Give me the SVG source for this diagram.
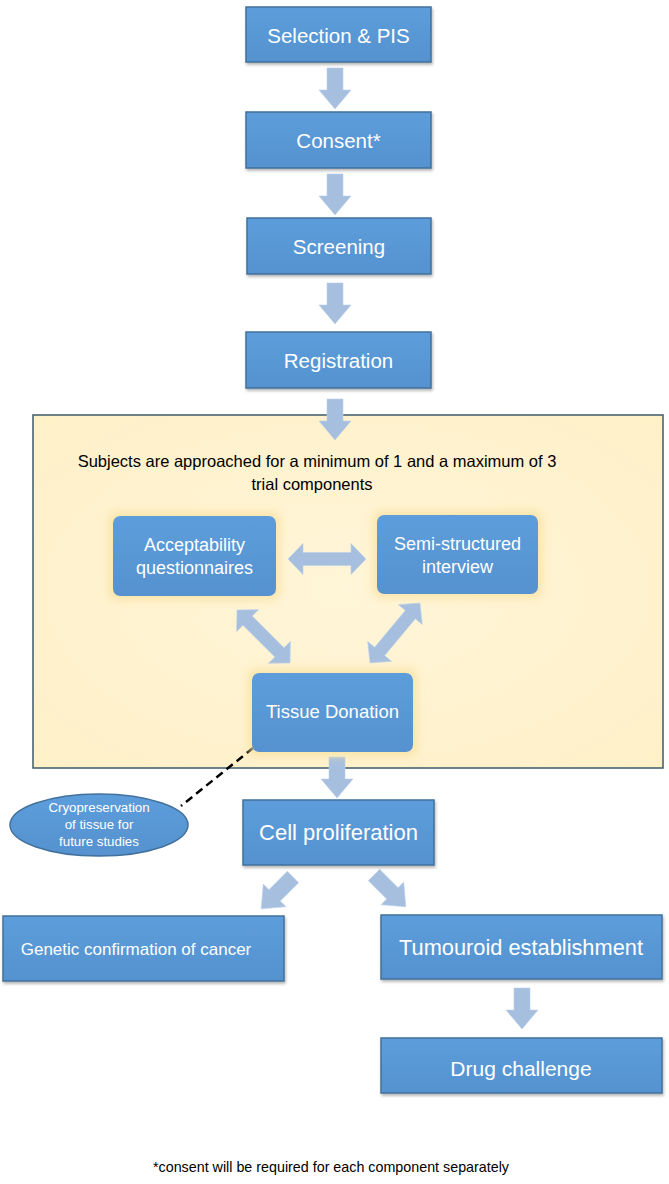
<svg xmlns="http://www.w3.org/2000/svg" xmlns:xlink="http://www.w3.org/1999/xlink" width="669" height="1184" viewBox="0 0 669 1184">
  <defs>
    <style>
      .box { fill: url(#boxGrad); stroke: #41719c; stroke-width: 1.5; filter: url(#shadow); }
      .rbox { fill: url(#boxGrad); stroke: none; filter: url(#glow); }
      .lbl { font-family: "Liberation Sans", Arial, sans-serif; fill: #ffffff; text-anchor: middle; }
      .dark { font-family: "Liberation Sans", Arial, sans-serif; fill: #000000; text-anchor: middle; }
      .arrow { fill: #a6bfdf; stroke: #bcd0ea; stroke-width: 0.6; }
    </style>
    <linearGradient id="boxGrad" x1="0" y1="0" x2="0" y2="1">
      <stop offset="0" stop-color="#5d9ddb"/>
      <stop offset="1" stop-color="#5592cf"/>
    </linearGradient>
    <radialGradient id="panelGrad" cx="0.5" cy="0.5" r="0.7">
      <stop offset="0" stop-color="#fff5d8"/>
      <stop offset="1" stop-color="#fff0c8"/>
    </radialGradient>
    <filter id="shadow" x="-10%" y="-10%" width="125%" height="135%">
      <feDropShadow dx="1" dy="2" stdDeviation="1.5" flood-color="#000" flood-opacity="0.3"/>
    </filter>
    <filter id="glow" x="-20%" y="-30%" width="140%" height="160%">
      <feMorphology in="SourceAlpha" operator="dilate" radius="4" result="d"/>
      <feGaussianBlur in="d" stdDeviation="5" result="b"/>
      <feFlood flood-color="#f7e2a0" flood-opacity="0.8"/>
      <feComposite in2="b" operator="in" result="g"/>
      <feMerge><feMergeNode in="g"/><feMergeNode in="SourceGraphic"/></feMerge>
    </filter>
    <path id="down" d="M-8,0 H8 V22 H16 L0,41 L-16,22 H-8 Z"/>
    <path id="downL" d="M-8,0 H8 V26 H16 L0,45 L-16,26 H-8 Z"/>
  </defs>

  <rect width="669" height="1184" fill="#ffffff"/>

  <g id="panel">
    <rect x="33" y="415" width="630" height="353" fill="url(#panelGrad)" stroke="#3d5b6b" stroke-width="1.5"/>
    <text class="dark" x="317" y="467" font-size="16.5">Subjects are approached for a minimum of 1 and a maximum of 3</text>
    <text class="dark" x="312" y="490" font-size="16.5">trial components</text>
  </g>

  <g id="connectors">
    <use href="#down" class="arrow" transform="translate(335,68)"/>
    <use href="#down" class="arrow" transform="translate(335,174)"/>
    <use href="#down" class="arrow" transform="translate(335,283)"/>
    <use href="#down" class="arrow" transform="translate(335,399)"/>
    <use href="#down" class="arrow" transform="translate(337,757)"/>
    <use href="#down" class="arrow" transform="translate(522,988)"/>
    <use href="#downL" class="arrow" transform="translate(293,877) rotate(45)"/>
    <use href="#downL" class="arrow" transform="translate(374,875) rotate(-45)"/>
    <path class="arrow" d="M288,559 L303,543.5 V552.5 H351 V543.5 L366,559 L351,574.5 V565.5 H303 V574.5 Z"/>
    <path class="arrow" transform="translate(263.5,636.5) rotate(45)" d="M-37.5,0 L-22.5,-15.5 V-6.5 H22.5 V-15.5 L37.5,0 L22.5,15.5 V6.5 H-22.5 V15.5 Z"/>
    <path class="arrow" transform="translate(395,633) rotate(129.8)" d="M-39,0 L-24,-15.5 V-6.5 H24 V-15.5 L39,0 L24,15.5 V6.5 H-24 V15.5 Z"/>
    <line x1="253" y1="748" x2="181" y2="806" stroke="#000" stroke-width="2.5" stroke-dasharray="8,5"/>
  </g>

  <g id="selection">
    <rect class="box" x="246" y="7" width="185" height="55"/>
    <text class="lbl" x="338.5" y="43" font-size="20.5">Selection &amp; PIS</text>
  </g>
  <g id="consent">
    <rect class="box" x="246" y="112" width="185" height="56"/>
    <text class="lbl" x="338.5" y="148" font-size="20.5">Consent*</text>
  </g>
  <g id="screening">
    <rect class="box" x="247" y="218" width="184" height="56"/>
    <text class="lbl" x="339" y="254" font-size="20.5">Screening</text>
  </g>
  <g id="registration">
    <rect class="box" x="246" y="332" width="185" height="56"/>
    <text class="lbl" x="338.5" y="368" font-size="20.5">Registration</text>
  </g>

  <g id="acceptability">
    <rect class="rbox" x="113" y="516" width="163" height="80" rx="7"/>
    <text class="lbl" x="194.5" y="551" font-size="18">Acceptability</text>
    <text class="lbl" x="194.5" y="574" font-size="18">questionnaires</text>
  </g>
  <g id="interview">
    <rect class="rbox" x="377" y="515" width="161" height="79" rx="7"/>
    <text class="lbl" x="457.5" y="550" font-size="18">Semi-structured</text>
    <text class="lbl" x="457.5" y="573" font-size="18">interview</text>
  </g>
  <g id="tissue">
    <rect class="rbox" x="252" y="673" width="161" height="79" rx="7"/>
    <text class="lbl" x="332.5" y="718" font-size="18.5">Tissue Donation</text>
  </g>

  <g id="cryo">
    <ellipse cx="99" cy="825" rx="89" ry="31" fill="url(#boxGrad)" stroke="#41719c" stroke-width="1.5"/>
    <text class="lbl" x="99" y="812" font-size="13.3">Cryopreservation</text>
    <text class="lbl" x="99" y="829" font-size="13.3">of tissue for</text>
    <text class="lbl" x="99" y="846" font-size="13.3">future studies</text>
  </g>

  <g id="cellprolif">
    <rect class="box" x="243" y="800" width="191" height="65"/>
    <text class="lbl" x="338.5" y="840" font-size="22">Cell proliferation</text>
  </g>
  <g id="genetic">
    <rect class="box" x="3" y="916" width="281" height="65"/>
    <text class="lbl" x="136" y="955" font-size="17">Genetic confirmation of cancer</text>
  </g>
  <g id="tumouroid">
    <rect class="box" x="381" y="915" width="281" height="64"/>
    <text class="lbl" x="521" y="955" font-size="21.8">Tumouroid establishment</text>
  </g>
  <g id="drug">
    <rect class="box" x="381" y="1038" width="281" height="55"/>
    <text class="lbl" x="521" y="1076" font-size="21">Drug challenge</text>
  </g>

  <g id="footnote">
    <text class="dark" x="331" y="1172" font-size="14.3">*consent will be required for each component separately</text>
  </g>
</svg>
